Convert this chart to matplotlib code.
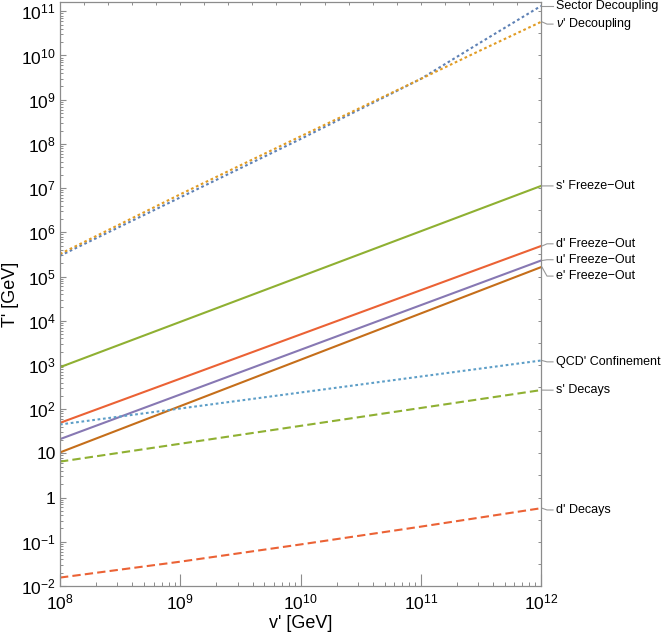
import numpy as np
import matplotlib
matplotlib.use("Agg")
import matplotlib.pyplot as plt
from matplotlib.ticker import FixedLocator, NullFormatter, NullLocator, LogLocator
import matplotlib.transforms as mtransforms

plt.rcParams["font.family"] = ["Liberation Sans", "DejaVu Sans"]
plt.rcParams["mathtext.fontset"] = "custom"
plt.rcParams["mathtext.rm"] = "Liberation Sans"
plt.rcParams["mathtext.it"] = "Liberation Sans:italic"

# ------------------------------------------------------------
# data
# ------------------------------------------------------------
v_ends = [1e8, 1e12]
v_dec = [1e8, 1e9, 1e10, 1e11, 10**11.5, 1e12]

sector_decoupling = [10**5.47, 10**6.79, 10**8.11, 10**9.47, 10**10.30, 10**11.12]
nu_decoupling = [10**5.51, 10**6.86, 10**8.17, 10**9.47, 10**10.12, 10**10.76]

s_freeze = [890, 1.12e7]
d_freeze = [49, 4.9e5]
u_freeze = [21, 2.3e5]
e_freeze = [10.5, 1.63e5]
qcd_conf = [45, 1.26e3]
s_decays = [6.5, 270]

v_ddec = [1e8, 1e9, 1e10, 1e11, 1e12]
d_decays = [0.0155, 0.0355, 0.087, 0.22, 0.575]

labels = ["Sector Decoupling", r"$\nu$' Decoupling", "s' Freeze\u2212Out",
          "d' Freeze\u2212Out", "u' Freeze\u2212Out", "e' Freeze\u2212Out",
          "QCD' Confinement", "s' Decays", "d' Decays"]
label_y = [10**11.12, 10**10.71, 10**7.05, 10**5.74, 10**5.38, 10**5.01,
           10**3.07, 10**2.43, 10**-0.28]

# ------------------------------------------------------------
# plot
# ------------------------------------------------------------
fig = plt.figure(figsize=(6.64, 6.35), dpi=100)
ax = fig.add_axes([60 / 664, 49 / 635, 481 / 664, 584 / 635])

c_blue, c_orange, c_green = "#5E81B5", "#E19C24", "#8FB032"
c_red, c_purple, c_brown, c_lblue = "#EB6235", "#8778B3", "#C56E1A", "#5D9EC7"
dot = (0, (1.3, 1.3))
dash = (0, (4, 2))
lw = 1.5

series = [
    (v_dec, sector_decoupling, c_blue, dot),
    (v_dec, nu_decoupling, c_orange, dot),
    (v_ends, s_freeze, c_green, "-"),
    (v_ends, d_freeze, c_red, "-"),
    (v_ends, u_freeze, c_purple, "-"),
    (v_ends, e_freeze, c_brown, "-"),
    (v_ends, qcd_conf, c_lblue, dot),
    (v_ends, s_decays, c_green, dash),
    (v_ddec, d_decays, c_red, dash),
]
for x, y, c, ls in series:
    ax.plot(x, y, color=c, ls=ls, lw=lw)

ax.set_xscale("log")
ax.set_yscale("log")
ax.set_xlim(1e8, 1e12)
ax.set_ylim(1e-2, 10**11.21)

gray = "#8c8c8c"
for s in ax.spines.values():
    s.set_color(gray)
    s.set_linewidth(0.9)

xt = [1e8, 1e9, 1e10, 1e11, 1e12]
ax.xaxis.set_major_locator(FixedLocator(xt))
ax.set_xticklabels([r"$10^{%d}$" % k for k in range(8, 13)])
ax.xaxis.set_minor_locator(LogLocator(base=10, subs=np.arange(2, 10)))
ax.xaxis.set_minor_formatter(NullFormatter())

yt = [10.0**k for k in range(-2, 12)]
ylab = []
for k in range(-2, 12):
    if k == 0:
        ylab.append("1")
    elif k == 1:
        ylab.append("10")
    else:
        ylab.append(r"$10^{%d}$" % k)
ax.yaxis.set_major_locator(FixedLocator(yt))
ax.set_yticklabels(ylab)
ax.yaxis.set_minor_locator(LogLocator(base=10, subs=np.arange(2, 10), numticks=30))
ax.yaxis.set_minor_formatter(NullFormatter())

ax.tick_params(axis="x", which="major", direction="in", length=8.6, width=0.8,
               color=gray, labelsize=12.5, pad=5)
ax.tick_params(axis="x", which="minor", direction="in", length=3, width=0.7, color=gray)
ax.tick_params(axis="y", which="major", direction="in", length=4, width=0.8,
               color=gray, labelsize=12.5, pad=3)
ax.tick_params(axis="y", which="minor", direction="in", length=1.8, width=0.7, color=gray)

# top and right frame ticks
axt = ax.twiny()
axt.set_xscale("log")
axt.set_xlim(ax.get_xlim())
axt.xaxis.set_major_locator(FixedLocator(10 ** np.arange(8, 12.01, 0.2)))
axt.xaxis.set_minor_locator(NullLocator())
axt.tick_params(axis="x", direction="in", length=2.5, width=0.7, color=gray, labeltop=False)
axr = ax.twinx()
axr.set_yscale("log")
axr.set_ylim(ax.get_ylim())
axr.yaxis.set_major_locator(FixedLocator(10 ** np.arange(-2, 11.3, 0.5)))
axr.yaxis.set_minor_locator(NullLocator())
axr.tick_params(axis="y", direction="in", length=2.5, width=0.7, color=gray, labelright=False)
for a in (axt, axr):
    for s in a.spines.values():
        s.set_visible(False)

ax.set_xlabel("v' [GeV]", fontsize=13)
ax.set_ylabel("T' [GeV]", fontsize=13)
ax.xaxis.set_label_coords(0.5, -0.05)
ax.yaxis.set_label_coords(-0.085, 0.5)

# right-hand labels with leader lines
trans = mtransforms.blended_transform_factory(ax.transAxes, ax.transData)
px = 1 / 481
ends = [s[1][-1] for s in series]
for lab, ye, yl in zip(labels, ends, label_y):
    ax.plot([1 + 1 * px, 1 + 6 * px, 1 + 12 * px], [ye, yl, yl], color="#999999",
            lw=0.8, transform=trans, clip_on=False)
    ax.text(1 + 15 * px, yl, lab, transform=trans, fontsize=9, va="center", ha="left")

fig.savefig("out.png", dpi=100)
